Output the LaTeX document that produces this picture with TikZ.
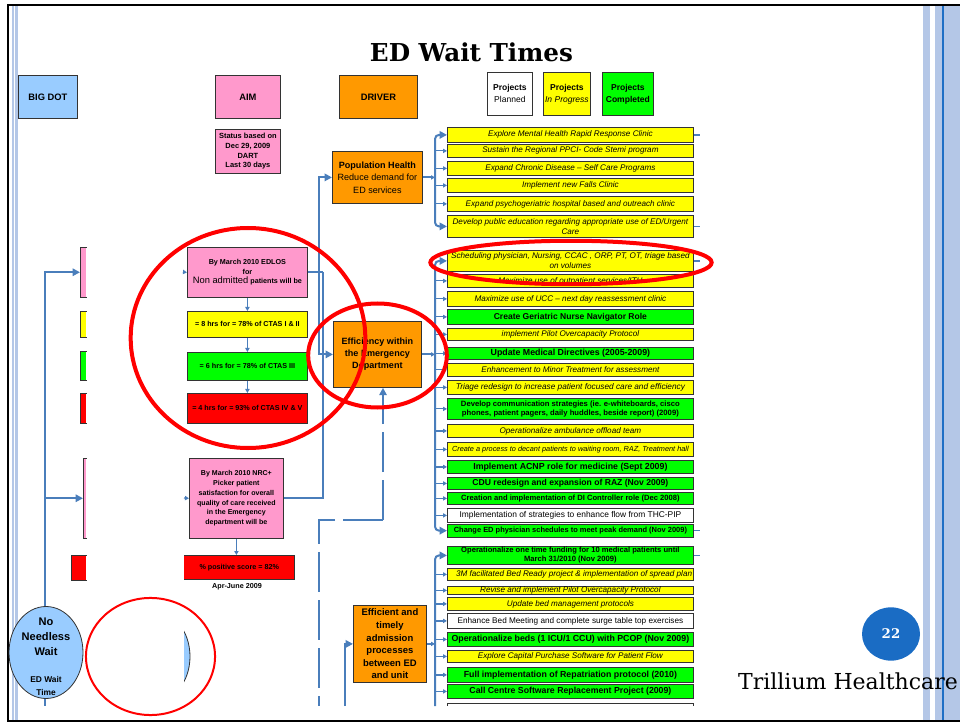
\documentclass[tikz,border=0pt]{standalone}
\usepackage{fontspec}
\setmainfont{Liberation Sans}
\newfontfamily\slideserif{DejaVu Serif}
\usetikzlibrary{arrows.meta,shapes.geometric}

\definecolor{yel}{HTML}{FFFF00}
\definecolor{grn}{HTML}{00FF00}
\definecolor{rd}{HTML}{FF0000}
\definecolor{pnk}{HTML}{FF99CC}
\definecolor{org}{HTML}{FF9900}
\definecolor{lblue}{HTML}{99CCFF}
\definecolor{wireblue}{HTML}{4A7EBB}
\definecolor{stripe}{HTML}{B4C7E7}
\definecolor{deepblue}{HTML}{1F6FC5}
\definecolor{pgblue}{HTML}{1A6CC4}

\tikzset{
  box/.style={draw=black!80, line width=0.6pt, inner sep=0pt, align=center},
  proj/.style={box, font=\fontsize{6.2}{7}\selectfont},
  py/.style={proj, fill=yel, font=\fontsize{6.1}{7}\selectfont\itshape},
  pg/.style={proj, fill=grn, font=\fontsize{6.5}{7}\selectfont\bfseries},
  pw/.style={proj, fill=white},
  sliver/.style={draw=none, inner sep=0pt},
  edgeline/.style={draw=black!80, line width=0.6pt},
  wire/.style={draw=wireblue, line width=1.5pt},
  twig/.style={draw=wireblue, line width=0.9pt, -{Triangle[length=3pt,width=3.2pt]}},
  bigtip/.style={-{Triangle[length=5.5pt,width=5.5pt]}},
  dashwire/.style={draw=wireblue, line width=1.6pt, dash pattern=on 30pt off 6pt},
  ring/.style={draw=rd, line width=3pt},
  aimtext/.style={font=\fontsize{5.4}{7}\selectfont\bfseries},
  head/.style={box, font=\fontsize{7}{8}\selectfont\bfseries},
  legend/.style={box, font=\fontsize{6.4}{9}\selectfont},
}

% box from its top-left corner (x1,y1) to its bottom-right corner (x2,y2)
\newcommand\bx[7]{\node[#6, anchor=north west, minimum width={(#4-#2)*0.75pt},
  minimum height={(#5-#3)*0.75pt}] (#1) at (#2,#3) {#7};}
% project box of the right-hand column
\newcommand\pj[5]{\bx{#1}{447}{#2}{693}{#3}{#4}{#5}}
% left column stub, cut off on its right side
\newcommand\sliv[5]{\bx{#1}{#2}{#3}{86}{#4}{sliver, fill=#5}{}%
  \draw[edgeline] (#1.north east) -- (#1.north west) -- (#1.south west) -- (#1.south east);}

\begin{document}
\begin{tikzpicture}[x=0.75pt,y=-0.75pt]
\useasboundingbox (0,0) rectangle (960,723);

% slide frame and side stripes
\fill[stripe] (12,5) rectangle (13.7,721);
\fill[stripe] (14.7,5) rectangle (18,721);
\fill[stripe] (923,5) rectangle (930,721);
\fill[stripe] (935,5) rectangle (960,721);
\fill[deepblue] (942.3,5) rectangle (943.8,721);
\draw[black, line width=1.6pt] (960,5) -- (8,5) -- (8,721) -- (960,721);

% title and footer
\node[font={\slideserif\bfseries\fontsize{18.5}{20}\selectfont}] (title) at (471.5,52) {ED Wait Times};
\node[ellipse, fill=pgblue, minimum width=43.5pt, minimum height=40pt, inner sep=0pt,
  text=white, font={\slideserif\bfseries\fontsize{10}{12}\selectfont}] (pgno) at (891,634) {22};
\node[anchor=base, font={\slideserif\fontsize{16.5}{18}\selectfont}] (foot) at (848,689) {Trillium Healthcare};

% column heads
\bx{bigdot}{18}{75}{77}{118}{head, fill=lblue}{BIG DOT}
\bx{aim}{215}{75}{280}{118}{head, fill=pnk}{AIM}
\bx{driver}{339}{75}{417}{118}{head, fill=org}{DRIVER}
\bx{status}{215}{129}{280}{173}{box, fill=pnk, font=\fontsize{5.6}{7.2}\selectfont\bfseries}{Status based on\\Dec 29, 2009\\DART\\Last 30 days}
\bx{hplan}{487}{72}{532}{115}{legend, fill=white}{\textbf{Projects}\\Planned}
\bx{hprog}{543}{72}{590}{115}{legend, fill=yel}{\textbf{Projects}\\\textit{In Progress}}
\bx{hdone}{602}{72}{653}{115}{legend, fill=grn}{\textbf{Projects}\\\textbf{Completed}}

% drivers
\bx{ph}{332}{151}{422}{203}{box, fill=org, font=\fontsize{6.8}{9.4}\selectfont}{\textbf{Population Health}\\Reduce demand for\\ED services}
\bx{eff}{333}{321}{421}{387}{box, fill=org, font=\fontsize{6.8}{9}\selectfont\bfseries}{Efficiency within\\the Emergency\\Department}
\bx{adm}{353}{605}{426}{682}{box, fill=org, font=\fontsize{7.1}{9.4}\selectfont\bfseries}{Efficient and\\timely\\admission\\processes\\between ED\\and unit}

% aims
\bx{ea}{187}{247}{307}{297}{box, fill=pnk, aimtext}{By March 2010 EDLOS\\for\\{\fontsize{7}{8.5}\selectfont\mdseries Non admitted} patients will be}
\bx{a8}{187}{311}{307}{337}{box, fill=yel, aimtext}{= 8 hrs for = 78\% of CTAS I \& II}
\bx{a6}{187}{352}{307}{380}{box, fill=grn, aimtext}{= 6 hrs for = 78\% of CTAS III}
\bx{a4}{187}{393}{307}{423}{box, fill=rd, aimtext}{= 4 hrs for = 93\% of CTAS IV \& V}
\bx{nrc}{189}{458}{283}{538}{box, fill=pnk, font=\fontsize{5.3}{7.3}\selectfont\bfseries}{By March 2010 NRC+\\Picker patient\\satisfaction for overall\\quality of care received\\in the Emergency\\department will be}
\bx{ps}{184}{555}{294}{579}{sliver, fill=rd, aimtext}{\% positive score = 82\%}
\draw[edgeline] (ps.north west) -- (ps.north east) -- (ps.south east) -- (ps.south west);
\node[aimtext] (apr) at (237,587) {Apr-June 2009};

% big dot column
\sliv{lp1}{80}{247}{297}{pnk}
\sliv{ly1}{80}{311}{337}{yel}
\sliv{lg1}{80}{351}{380}{grn}
\sliv{lr1}{80}{393}{423}{rd}
\sliv{lp2}{83}{458}{538}{pnk}
\sliv{lr2}{71}{555}{580}{rd}
\node[ellipse, draw=black!80, line width=0.6pt, fill=lblue, minimum width=55.5pt,
  minimum height=69pt, inner sep=0pt] (nnw) at (46,652.5) {};
\node[align=center, font=\fontsize{8.3}{11.2}\selectfont\bfseries] (nnwa) at (46,637) {No\\Needless\\Wait};
\node[align=center, font=\fontsize{6.3}{9.5}\selectfont\bfseries] (nnwb) at (46,686) {ED Wait\\Time};
\begin{scope}
  \clip (184,600) rectangle (200,710);
  \draw[edgeline, fill=lblue] (153,656.5) ellipse [x radius=27.75pt, y radius=34.5pt];
\end{scope}

% projects: population health
\pj{p1}{127}{142}{py}{Explore Mental Health Rapid Response Clinic}
\pj{p2}{144}{157}{py}{Sustain the Regional PPCI- Code Stemi program}
\pj{p3}{161}{175}{py}{Expand Chronic Disease – Self Care Programs}
\pj{p4}{178}{192}{py}{Implement new Falls Clinic}
\pj{p5}{196}{211}{py}{Expand psychogeriatric hospital based and outreach clinic}
\pj{p6}{215}{237}{py, font=\fontsize{6.1}{7.5}\selectfont\itshape}{Develop public education regarding appropriate use of ED/Urgent\\Care}

% projects: efficiency within the ED
\pj{p7}{250}{271}{py, font=\fontsize{6.1}{7.5}\selectfont\itshape}{Scheduling physician, Nursing, CCAC , ORP, PT, OT, triage based\\on volumes}
\pj{p8}{274}{287}{py}{Maximize use of outpatient services/ITH}
\pj{p9}{291}{306}{py}{Maximize use of UCC – next day reassessment clinic}
\pj{p10}{309}{324}{pg, font=\fontsize{6.4}{7}\selectfont\bfseries}{Create Geriatric Nurse Navigator Role}
\pj{p11}{328}{340}{py}{implement Pilot Overcapacity Protocol}
\pj{p12}{347}{359}{pg, font=\fontsize{6.6}{7}\selectfont\bfseries}{Update Medical Directives (2005-2009)}
\pj{p13}{363}{376}{py}{Enhancement to Minor Treatment for assessment}
\pj{p14}{380}{394}{py, font=\fontsize{6.2}{7}\selectfont\itshape}{Triage redesign to increase patient focused care and efficiency}
\pj{p15}{398}{419}{pg, font=\fontsize{5.75}{6.9}\selectfont\bfseries}{Develop communication strategies (ie. e-whiteboards, cisco\\phones, patient pagers, daily huddles, beside report) (2009)}
\pj{p16}{424}{437}{py}{Operationalize ambulance offload team}
\pj{p17}{442}{456}{py, font=\fontsize{5.5}{7}\selectfont\itshape}{Create a process to decant patients to waiting room, RAZ, Treatment hall}
\pj{p18}{460}{473}{pg, font=\fontsize{6.6}{7}\selectfont\bfseries}{Implement ACNP role for medicine (Sept 2009)}
\pj{p19}{477}{489}{pg, font=\fontsize{6.45}{7}\selectfont\bfseries}{CDU redesign and expansion of RAZ (Nov 2009)}
\pj{p20}{492}{504}{pg, font=\fontsize{5.7}{7}\selectfont\bfseries}{Creation and implementation of DI Controller role (Dec 2008)}
\pj{p21}{508}{522}{pw, font=\fontsize{6.3}{7}\selectfont}{Implementation of strategies to enhance flow from THC-PIP}
\pj{p22}{523.5}{537}{pg, font=\fontsize{5.6}{7}\selectfont\bfseries}{Change ED physician schedules to meet peak demand (Nov 2009)}

% projects: admission processes
\pj{p23}{546}{564}{pg, font=\fontsize{5.7}{6.9}\selectfont\bfseries}{Operationalize one time funding for 10 medical patients until\\March 31/2010 (Nov 2009)}
\pj{p24}{568}{580}{py, path picture={\node[anchor=west, inner sep=0pt,
  font=\fontsize{6.1}{7}\selectfont\itshape] (p24t) at ([xshift=2.5pt]path picture bounding box.west)
  {3M facilitated Bed Ready project \& implementation of spread plan};}}{}
\pj{p25}{586}{594}{py}{Revise and implement Pilot Overcapacity Protocol}
\pj{p26}{597}{610}{py}{Update bed management protocols}
\pj{p27}{613}{628}{pw, font=\fontsize{6.15}{7}\selectfont}{Enhance Bed Meeting and complete surge table top exercises}
\pj{p28}{632}{646}{pg, font=\fontsize{6.6}{7}\selectfont\bfseries}{Operationalize beds (1 ICU/1 CCU) with PCOP (Nov 2009)}
\pj{p29}{650}{662}{py}{Explore Capital Purchase Software for Patient Flow}
\pj{p30}{667}{682}{pg, font=\fontsize{6.6}{7}\selectfont\bfseries}{Full implementation of Repatriation protocol (2010)}
\pj{p31}{684}{698}{pg, font=\fontsize{6.55}{7}\selectfont\bfseries}{Call Centre Software Replacement Project (2009)}
\fill[white] (447,703) rectangle (693,706);
\draw[edgeline] (447,706) -- (447,703) -- (693,703) -- (693,706);

% project buses
\coordinate (bus) at (435,0);
\coordinate (busend) at (435,706);
\draw[wire, rounded corners=3pt, {Triangle[length=5.5pt,width=5.5pt]}-{Triangle[length=5.5pt,width=5.5pt]}]
  (p1.west) -- (p1.west -| bus) -- (p6.west -| bus) -- (p6.west);
\draw[wire, rounded corners=3pt, {Triangle[length=5.5pt,width=5.5pt]}-{Triangle[length=5.5pt,width=5.5pt]}]
  (p7.west) -- (p7.west -| bus) -- (p22.west -| bus) -- (p22.west);
\draw[wire, rounded corners=3pt, {Triangle[length=5.5pt,width=5.5pt]}-]
  (p23.west) -- (p23.west -| bus) -- (busend);
\foreach \n in {p2,p3,p4,p5,p8,p9,p10,p11,p12,p13,p14,p15,p16,p17,p18,p19,p20,p21,
  p24,p25,p26,p27,p28,p29,p30,p31}
  \draw[twig] (\n.west -| bus) -- (\n.west);
\foreach \n in {p1,p6,p7,p22,p23}
  \draw[wire, line width=1.2pt] (\n.east) -- ++(6,0);

% drivers to buses
\draw[wire, -{Triangle[length=3pt,width=3.2pt]}] (ph.east) -- (ph.east -| bus);
\draw[wire, -{Triangle[length=3pt,width=3.2pt]}] (eff.east) -- (eff.east -| bus);
\draw[wire, -{Triangle[length=3pt,width=3.2pt]}] (adm.east) -- (adm.east -| bus);

% aims to drivers
\coordinate (ja) at (319,0);
\coordinate (jb) at (323,0);
\draw[wire] (ea.east) -- (ea.east -| jb);
\draw[wire, bigtip] (eff.west -| ja) -- (ph.west -| ja) -- (ph.west);
\draw[wire, bigtip] (ea.east -| ja) -- (eff.west -| ja) -- (eff.west);
\draw[wire] (nrc.east) -- (nrc.east -| jb) -- (ea.east -| jb);

% dashed feed into the efficiency driver
\coordinate (dk) at (383,520);
\coordinate (dl) at (319,520);
\coordinate (dm) at (319,706);
\draw[dashwire, bigtip] (dk) -- (eff.south -| dk);
\draw[dashwire] (dk) -- (dl) -- (dm);
\coordinate (am) at (345,706);
\draw[wire, bigtip] (am) -- (adm.west -| am) -- (adm.west);

% steps between aims
\draw[twig] (ea.south) -- (a8.north);
\draw[twig] (a8.south) -- (a6.north);
\draw[twig] (a6.south) -- (a4.north);
\draw[twig] (nrc.south) -- (nrc.south |- ps.north);
\coordinate (s1) at (183,272);
\coordinate (s2) at (184,498);
\draw[twig] (s1) -- (ea.west);
\draw[twig] (s2) -- (nrc.west);

% big dot to aims
\coordinate (lk) at (45,0);
\coordinate (lbot) at (45,706);
\draw[wire, bigtip] (nnw.north -| lk) -- (lp1.west -| lk) -- (lp1.west);
\draw[wire, bigtip] (lp2.west -| lk) -- (lp2.west);
\draw[wire] (nnw.south -| lk) -- (lbot);

% highlight rings
\draw[ring] (248,338) ellipse [x radius=88pt, y radius=82.5pt];
\draw[ring] (377.5,355.5) ellipse [x radius=52pt, y radius=39pt];
\draw[ring] (571,262.5) ellipse [x radius=105.5pt, y radius=16.3pt];
\draw[rd, line width=1.5pt] (150.5,656.5) ellipse [x radius=48.4pt, y radius=43.9pt];
\end{tikzpicture}
\end{document}
